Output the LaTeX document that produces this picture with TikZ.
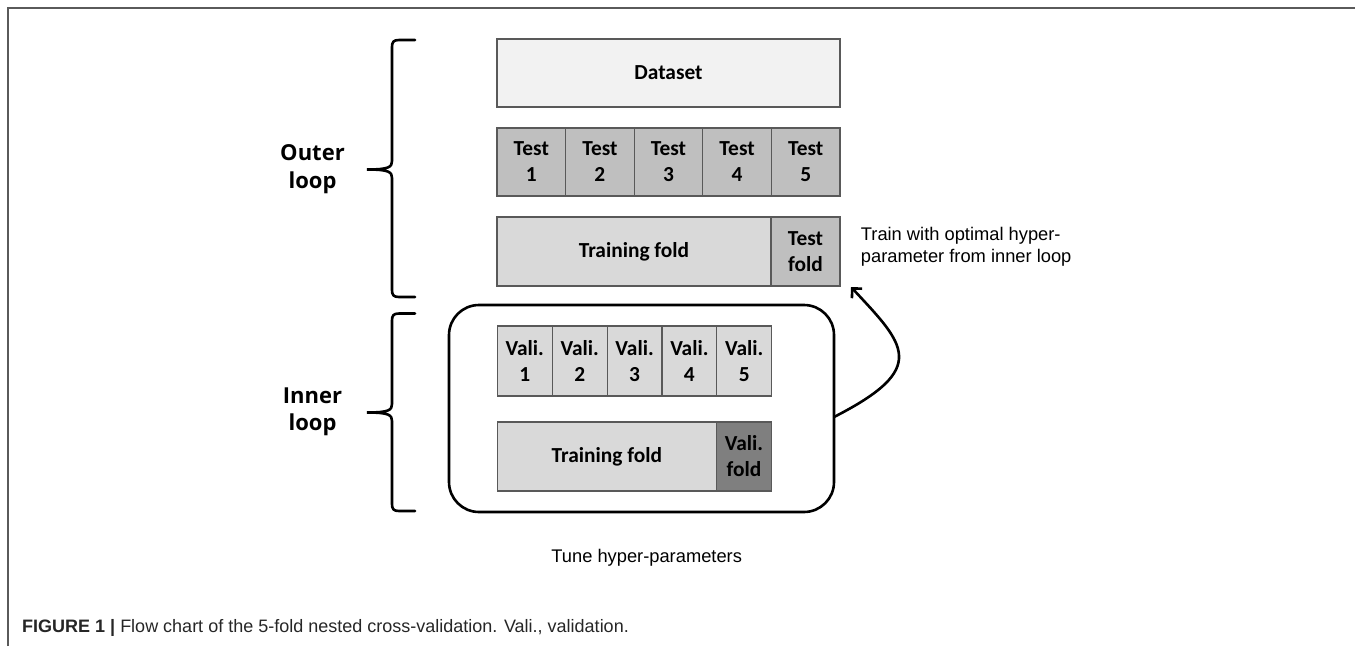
\documentclass[tikz,border=0pt]{standalone}
\usepackage{fontspec}
\setmainfont{Liberation Sans}
\newfontfamily\carl{Carlito}
\newfontfamily\opens{Open Sans}
\newfontfamily\lib{Liberation Sans}
\usetikzlibrary{arrows.meta}
\definecolor{framecol}{HTML}{5A5A5A}
\definecolor{bordercol}{HTML}{595959}
\definecolor{fillA}{HTML}{F2F2F2}
\definecolor{fillB}{HTML}{BFBFBF}
\definecolor{fillC}{HTML}{D9D9D9}
\definecolor{fillD}{HTML}{7F7F7F}
\tikzset{
  cell/.style={draw=bordercol, line width=1.2pt, inner sep=0pt, align=center,
    font=\carl\bfseries\fontsize{21.4}{26}\selectfont, text=black},
  brace/.style={draw=black, line width=2.6pt, line cap=round},
  looplabel/.style={font=\opens\bfseries\fontsize{22}{27.5}\selectfont, align=center, inner sep=0pt},
  note/.style={font=\lib\fontsize{18.3}{22.5}\selectfont, inner sep=0pt}
}
\begin{document}
\begin{tikzpicture}[x=1pt,y=-1pt]
\useasboundingbox (0,0) rectangle (1355,646);
% frame
\draw[framecol, line width=2pt] (8,646) -- (8,8) -- (1355,8);

% outer loop rows
\node[cell, fill=fillA, minimum width=343pt, minimum height=68pt] (dataset) at (668.5,73) {Dataset};
\foreach \i/\x in {1/531.3,2/599.9,3/668.5,4/737.1,5/805.7}{
  \node[cell, fill=fillB, minimum width=68.6pt, minimum height=68pt] (test\i) at (\x,162) {Test\\\i};
}
\node[cell, fill=fillC, minimum width=274pt, minimum height=69pt] (otrain) at (634,251.5) {Training fold};
\node[cell, fill=fillB, minimum width=69pt, minimum height=69pt] (testfold) at (805.5,251.5) {Test\\fold};

% inner loop container
\node[draw=black, line width=2.6pt, rounded corners=30pt, minimum width=385pt, minimum height=207pt, inner sep=0pt] (inner) at (641.5,408.5) {};
\foreach \i/\x in {1/524.8,2/579.7,3/634.6,4/689.4,5/744.3}{
  \node[cell, fill=fillC, minimum width=54.9pt, minimum height=70pt] (vali\i) at (\x,361) {Vali.\\\i};
}
\node[cell, fill=fillC, minimum width=219pt, minimum height=69pt] (itrain) at (606.8,456.5) {Training fold};
\node[cell, fill=fillD, minimum width=55.4pt, minimum height=69pt] (valifold) at (744,456.5) {Vali.\\fold};

% braces
\draw[brace] (415,40) -- (399,40) .. controls (393.5,40) and (392,42) .. (392,47) -- (392,161)
  .. controls (392,167) and (389,169.5) .. (367,169.5)
  .. controls (389,169.5) and (392,172) .. (392,178) -- (392,290)
  .. controls (392,295) and (393.5,297) .. (399,297) -- (415,297);
\draw[brace] (415,313.5) -- (399,313.5) .. controls (393.5,313.5) and (392,315.5) .. (392,320.5) -- (392,404)
  .. controls (392,410) and (389,412.5) .. (367,412.5)
  .. controls (389,412.5) and (392,415) .. (392,421) -- (392,504)
  .. controls (392,509) and (393.5,511) .. (399,511) -- (415,511);

\node[looplabel] (outerlbl) at (312.5,169) {Outer\\loop};
\node[looplabel] (innerlbl) at (312.5,412) {Inner\\loop};

% arrow from inner loop to outer loop
\coordinate (astart) at (834,417);
\coordinate (aend) at (851,287);
\draw[line width=2.6pt, -{Straight Barb[length=7pt,width=14pt]}] (astart) .. controls (930,368) and (905,345) .. (aend);

\node[note, anchor=north west, align=left] (trainnote) at (860.7,227) {Train with optimal hyper-\\parameter from inner loop};
\node[note, anchor=base] (tune) at (646.7,562) {Tune hyper-parameters};

\node[anchor=base west, inner sep=0pt, font=\lib\fontsize{18}{22}\selectfont, text=black!85] (caption) at (22,632) {\textbf{FIGURE 1 |} Flow chart of the 5-fold nested cross-validation. Vali., validation.};
\end{tikzpicture}
\end{document}
